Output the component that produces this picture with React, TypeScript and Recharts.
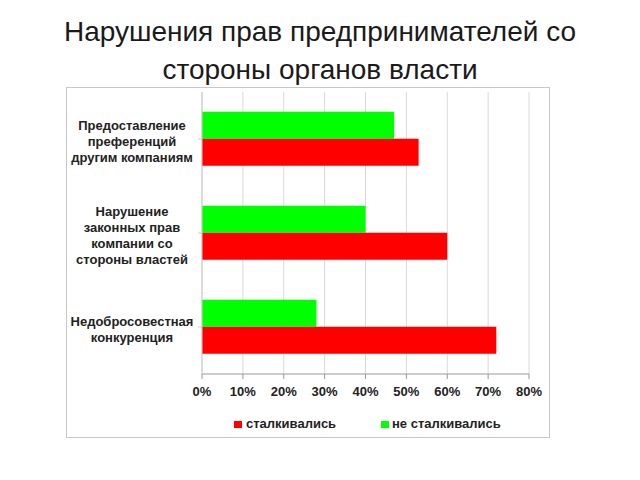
import React from "react";
import { BarChart, Bar, XAxis, YAxis, CartesianGrid } from "recharts";

const categories = [
  "Предоставление\nпреференций\nдругим компаниям",
  "Нарушение\nзаконных прав\nкомпании со\nстороны властей",
  "Недобросовестная\nконкуренция",
];
const encountered = [0.53, 0.6, 0.72];
const notEncountered = [0.47, 0.4, 0.28];
const xTicks = [0, 0.1, 0.2, 0.3, 0.4, 0.5, 0.6, 0.7, 0.8];
const titleLines = ["Нарушения прав предпринимателей со", "стороны органов власти"];
const seriesNames = ["сталкивались", "не сталкивались"];

const data = categories.map((c, i) => ({
  cat: c,
  enc: encountered[i],
  notEnc: notEncountered[i],
}));

const FONT = "'Liberation Sans', Arial, sans-serif";

const CatTick = (props: any) => {
  const { x, y, payload } = props;
  const lines: string[] = String(payload.value).split("\n");
  const lh = 16;
  const startY = y + 2 - ((lines.length - 1) * lh) / 2;
  return (
    <text
      x={x - 64}
      y={startY}
      textAnchor="middle"
      fontFamily={FONT}
      fontWeight="bold"
      fontSize={13}
      fill="#222"
    >
      {lines.map((l, i) => (
        <tspan key={i} x={x - 64} y={startY + i * lh} dy="0.35em">
          {l}
        </tspan>
      ))}
    </text>
  );
};

export default function App() {
  return (
    <div style={{ position: "absolute", left: 0, top: 0, width: 640, height: 480, background: "#fff" }}>
      {titleLines.map((t, i) => (
        <div
          key={i}
          style={{
            position: "absolute",
            left: 0,
            width: 640,
            top: 15 + i * 38,
            textAlign: "center",
            fontFamily: FONT,
            fontSize: 28,
            lineHeight: "34px",
            color: "#1a1a1a",
          }}
        >
          {t}
        </div>
      ))}
      <div
        style={{
          position: "absolute",
          left: 66,
          top: 87,
          width: 484,
          height: 351,
          border: "1px solid #c8c8c8",
          boxSizing: "border-box",
        }}
      >
        <BarChart
          width={482}
          height={349}
          data={data}
          layout="vertical"
          margin={{ top: 4, right: 20, bottom: 33, left: 0 }}
          barCategoryGap="21%"
          barGap={0}
        >
          <CartesianGrid horizontal={false} stroke="#d9d9d9" />
          <XAxis
            type="number"
            domain={[0, 0.8]}
            ticks={xTicks}
            interval={0}
            tickFormatter={(v: number) => `${Math.round(v * 100)}%`}
            stroke="#999"
            tickSize={5}
            tick={{ fontFamily: FONT, fontWeight: "bold", fontSize: 13, fill: "#222", dy: 6 }}
            height={30}
          />
          <YAxis
            type="category"
            dataKey="cat"
            width={135}
            stroke="#ccc"
            tickSize={4}
            tick={<CatTick />}
            interval={0}
          />
          <Bar dataKey="notEnc" name={seriesNames[1]} fill="#00ff00" isAnimationActive={false} />
          <Bar dataKey="enc" name={seriesNames[0]} fill="#ff0000" isAnimationActive={false} />
        </BarChart>
        <div
          style={{
            position: "absolute",
            top: 327,
            left: 0,
            width: 482,
            fontFamily: FONT,
            fontWeight: "bold",
            fontSize: 13,
            color: "#222",
          }}
        >
          <div style={{ position: "absolute", left: 167, top: 6, width: 8, height: 7, background: "#ff0000" }} />
          <div style={{ position: "absolute", left: 179, top: 1 }}>{seriesNames[0]}</div>
          <div style={{ position: "absolute", left: 314, top: 6, width: 8, height: 7, background: "#00ff00" }} />
          <div style={{ position: "absolute", left: 325, top: 1 }}>{seriesNames[1]}</div>
        </div>
      </div>
    </div>
  );
}
